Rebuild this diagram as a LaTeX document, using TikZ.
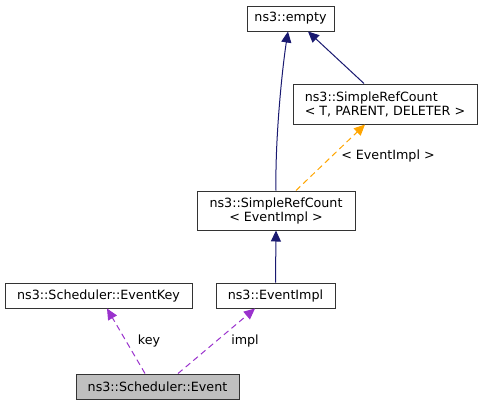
\documentclass[tikz,border=0pt]{standalone}
\usepackage{fontspec}
\setmainfont{DejaVu Sans}
\usetikzlibrary{arrows.meta}
\definecolor{navy}{HTML}{191970}
\definecolor{orng}{HTML}{FFA500}
\definecolor{purp}{HTML}{9A32CD}
\definecolor{boxgray}{HTML}{BFBFBF}
\tikzset{
  cls/.style={draw=black!80, line width=1pt, fill=white, inner sep=0pt, minimum height=25pt, font=\fontsize{12.7}{15}\selectfont},
  inh/.style={draw=navy, line width=1pt, -{Triangle[length=11pt,width=10pt]}, navy},
  tmpl/.style={draw=orng, line width=1pt, dash pattern=on 6pt off 4pt, -{Triangle[length=11pt,width=10pt]}, orng},
  usage/.style={draw=purp, line width=1pt, dash pattern=on 6pt off 4pt, -{Triangle[length=11pt,width=10pt]}, purp},
  lbl/.style={font=\fontsize{12.7}{15}\selectfont, inner sep=0pt}
}
\begin{document}
\begin{tikzpicture}[x=1pt,y=-1pt]
\useasboundingbox (0,0) rectangle (483,405);
\node[cls, minimum width=87pt] (empty) at (290.5,18.5) {ns3::empty};
\node[cls, minimum width=184pt, minimum height=40pt, align=left] (srctpd) at (385,104) {ns3::SimpleRefCount\\[-1pt]< T, PARENT, DELETER >};
\node[cls, minimum width=158pt, minimum height=39pt, align=center] (srcei) at (276,210.5) {ns3::SimpleRefCount\\[-1pt]< EventImpl >};
\node[cls, minimum width=119pt] (eventimpl) at (275.5,295.5) {ns3::EventImpl};
\node[cls, minimum width=187pt] (eventkey) at (98.5,295.5) {ns3::Scheduler::EventKey};
\node[cls, minimum width=163pt, fill=boxgray] (event) at (157.5,386.5) {ns3::Scheduler::Event};

\draw[inh] (srcei.north) .. controls (275,140) and (282,70) .. ([xshift=-2.5pt]empty.south);
\draw[inh] ([xshift=-21pt]srctpd.north) -- ([xshift=17.5pt]empty.south);
\draw[tmpl] ([xshift=20pt]srcei.north) -- ([xshift=-20pt]srctpd.south);
\node[lbl] (lblei) at (388,156) {< EventImpl >};
\draw[inh] (eventimpl.north) -- (srcei.south);
\draw[usage] ([xshift=-12.5pt]event.north) -- ([xshift=8.5pt]eventkey.south);
\node[lbl] (lblkey) at (149,341) {key};
\draw[usage] ([xshift=20.5pt]event.north) -- ([xshift=-20.5pt]eventimpl.south);
\node[lbl] (lblimpl) at (245,341) {impl};
\end{tikzpicture}
\end{document}
